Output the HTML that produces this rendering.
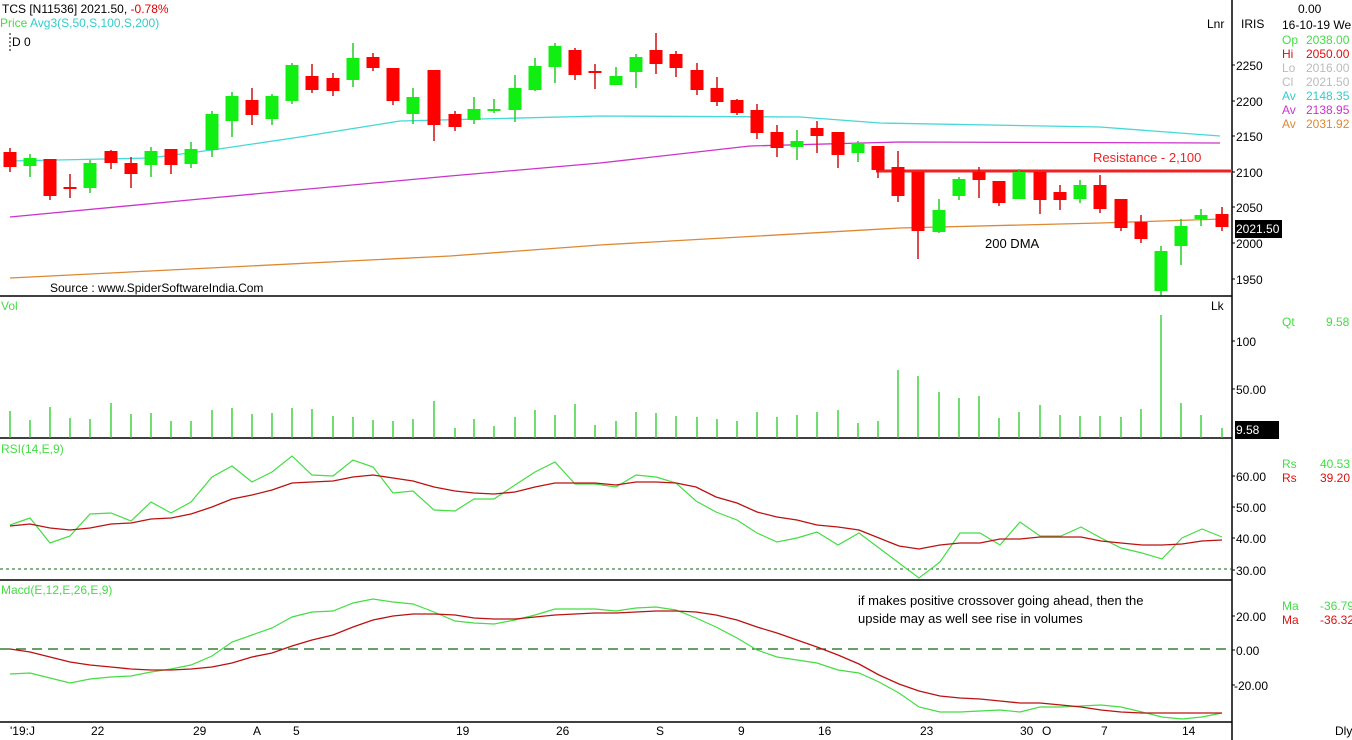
<!DOCTYPE html>
<html><head><meta charset="utf-8"><style>
body{margin:0;background:#fff;width:1352px;height:740px;overflow:hidden}
svg{display:block;font-family:"Liberation Sans",sans-serif;font-size:12px}
.r{fill:#f00}.g{fill:#11ee11}
.wr{stroke:#d01010;stroke-width:1.5}.wg{stroke:#22cc22;stroke-width:1.5}
</style></head><body>
<svg width="1352" height="740" viewBox="0 0 1352 740">
<g stroke="#000" stroke-width="1.5">
<line x1="0" y1="296" x2="1232" y2="296"/>
<line x1="0" y1="438" x2="1232" y2="438"/>
<line x1="0" y1="580" x2="1232" y2="580"/>
<line x1="0" y1="722" x2="1232" y2="722"/>
<line x1="1232" y1="0" x2="1232" y2="740"/>
</g>
<g stroke="#000" stroke-width="1">
<line x1="1232" y1="65" x2="1235" y2="65"/><line x1="1232" y1="101" x2="1235" y2="101"/>
<line x1="1232" y1="136" x2="1235" y2="136"/><line x1="1232" y1="172" x2="1235" y2="172"/>
<line x1="1232" y1="207" x2="1235" y2="207"/><line x1="1232" y1="243" x2="1235" y2="243"/>
<line x1="1232" y1="279" x2="1235" y2="279"/>
<line x1="1232" y1="341" x2="1235" y2="341"/><line x1="1232" y1="389" x2="1235" y2="389"/>
<line x1="1232" y1="476" x2="1235" y2="476"/><line x1="1232" y1="507" x2="1235" y2="507"/>
<line x1="1232" y1="538" x2="1235" y2="538"/><line x1="1232" y1="570" x2="1235" y2="570"/>
<line x1="1232" y1="616" x2="1235" y2="616"/><line x1="1232" y1="650" x2="1235" y2="650"/>
<line x1="1232" y1="685" x2="1235" y2="685"/>
</g>
<text x="2" y="13" fill="#000">TCS [N11536] 2021.50, <tspan fill="#e00000"> -0.78%</tspan></text>
<text x="0" y="27" fill="#44dd44">Price <tspan fill="#33cccc"> Avg3(S,50,S,100,S,200)</tspan></text>
<line x1="10" y1="33" x2="10" y2="52" stroke="#000" stroke-dasharray="2,2"/>
<text x="12" y="46" fill="#000">D 0</text>
<text x="50" y="292" fill="#000">Source : www.SpiderSoftwareIndia.Com</text>
<text x="985" y="248" fill="#000" font-size="13">200 DMA</text>
<text x="1093" y="162" fill="#ee2222" font-size="13">Resistance - 2,100</text>
<text x="858" y="605" fill="#000" font-size="13">if makes positive crossover going ahead, then the</text>
<text x="858" y="623" fill="#000" font-size="13">upside may as well see rise in volumes</text>
<polyline fill="none" stroke="#44d8d8" stroke-width="1.3" points="10,161 150,158 212,150 300,137 400,121 440,120 600,116 800,117 880,123 1100,127 1220,136"/>
<polyline fill="none" stroke="#cc33cc" stroke-width="1.3" points="10,217 200,199 450,176 600,163 750,146 900,142 1220,143"/>
<polyline fill="none" stroke="#dd8833" stroke-width="1.3" points="10,278 450,256 600,245 900,228 1100,223 1222,219"/>
<line x1="876" y1="171" x2="1232" y2="171" stroke="#ee2222" stroke-width="3"/>
<g>
<line class="wr" x1="10" y1="148" x2="10" y2="172"/><rect class="r" x="3.5" y="152" width="13" height="15"/>
<line class="wg" x1="30" y1="154" x2="30" y2="177"/><rect class="g" x="23.5" y="158" width="13" height="8"/>
<line class="wr" x1="50" y1="159" x2="50" y2="200"/><rect class="r" x="43.5" y="159" width="13" height="37"/>
<line class="wr" x1="70" y1="174" x2="70" y2="198"/><rect class="r" x="63.5" y="187" width="13" height="2"/>
<line class="wg" x1="90" y1="160" x2="90" y2="193"/><rect class="g" x="83.5" y="163" width="13" height="25"/>
<line class="wr" x1="111" y1="150" x2="111" y2="169"/><rect class="r" x="104.5" y="151" width="13" height="12"/>
<line class="wr" x1="131" y1="157" x2="131" y2="188"/><rect class="r" x="124.5" y="163" width="13" height="11"/>
<line class="wg" x1="151" y1="147" x2="151" y2="177"/><rect class="g" x="144.5" y="151" width="13" height="14"/>
<line class="wr" x1="171" y1="149" x2="171" y2="174"/><rect class="r" x="164.5" y="149" width="13" height="16"/>
<line class="wg" x1="191" y1="142" x2="191" y2="168"/><rect class="g" x="184.5" y="149" width="13" height="15"/>
<line class="wg" x1="212" y1="111" x2="212" y2="157"/><rect class="g" x="205.5" y="114" width="13" height="36"/>
<line class="wg" x1="232" y1="92" x2="232" y2="137"/><rect class="g" x="225.5" y="96" width="13" height="25"/>
<line class="wr" x1="252" y1="88" x2="252" y2="125"/><rect class="r" x="245.5" y="100" width="13" height="15"/>
<line class="wg" x1="272" y1="94" x2="272" y2="125"/><rect class="g" x="265.5" y="96" width="13" height="23"/>
<line class="wg" x1="292" y1="63" x2="292" y2="104"/><rect class="g" x="285.5" y="65" width="13" height="36"/>
<line class="wr" x1="312" y1="64" x2="312" y2="93"/><rect class="r" x="305.5" y="76" width="13" height="14"/>
<line class="wr" x1="333" y1="73" x2="333" y2="96"/><rect class="r" x="326.5" y="78" width="13" height="13"/>
<line class="wg" x1="353" y1="43" x2="353" y2="87"/><rect class="g" x="346.5" y="58" width="13" height="22"/>
<line class="wr" x1="373" y1="53" x2="373" y2="71"/><rect class="r" x="366.5" y="57" width="13" height="11"/>
<line class="wr" x1="393" y1="68" x2="393" y2="105"/><rect class="r" x="386.5" y="68" width="13" height="33"/>
<line class="wg" x1="413" y1="88" x2="413" y2="124"/><rect class="g" x="406.5" y="97" width="13" height="17"/>
<line class="wr" x1="434" y1="70" x2="434" y2="141"/><rect class="r" x="427.5" y="70" width="13" height="55"/>
<line class="wr" x1="455" y1="111" x2="455" y2="131"/><rect class="r" x="448.5" y="114" width="13" height="13"/>
<line class="wg" x1="474" y1="97" x2="474" y2="124"/><rect class="g" x="467.5" y="109" width="13" height="11"/>
<line class="wg" x1="494" y1="99" x2="494" y2="113"/><rect class="g" x="487.5" y="109" width="13" height="2"/>
<line class="wg" x1="515" y1="75" x2="515" y2="122"/><rect class="g" x="508.5" y="88" width="13" height="22"/>
<line class="wg" x1="535" y1="58" x2="535" y2="91"/><rect class="g" x="528.5" y="66" width="13" height="24"/>
<line class="wg" x1="555" y1="43" x2="555" y2="83"/><rect class="g" x="548.5" y="46" width="13" height="21"/>
<line class="wr" x1="575" y1="48" x2="575" y2="80"/><rect class="r" x="568.5" y="50" width="13" height="25"/>
<line class="wr" x1="595" y1="64" x2="595" y2="89"/><rect class="r" x="588.5" y="71" width="13" height="2"/>
<line class="wg" x1="616" y1="67" x2="616" y2="85"/><rect class="g" x="609.5" y="76" width="13" height="9"/>
<line class="wg" x1="636" y1="54" x2="636" y2="88"/><rect class="g" x="629.5" y="57" width="13" height="15"/>
<line class="wr" x1="656" y1="33" x2="656" y2="74"/><rect class="r" x="649.5" y="50" width="13" height="14"/>
<line class="wr" x1="676" y1="51" x2="676" y2="77"/><rect class="r" x="669.5" y="54" width="13" height="14"/>
<line class="wr" x1="697" y1="63" x2="697" y2="95"/><rect class="r" x="690.5" y="70" width="13" height="20"/>
<line class="wr" x1="717" y1="77" x2="717" y2="106"/><rect class="r" x="710.5" y="88" width="13" height="14"/>
<line class="wr" x1="737" y1="99" x2="737" y2="115"/><rect class="r" x="730.5" y="100" width="13" height="13"/>
<line class="wr" x1="757" y1="104" x2="757" y2="139"/><rect class="r" x="750.5" y="110" width="13" height="23"/>
<line class="wr" x1="777" y1="125" x2="777" y2="157"/><rect class="r" x="770.5" y="132" width="13" height="16"/>
<line class="wg" x1="797" y1="130" x2="797" y2="160"/><rect class="g" x="790.5" y="141" width="13" height="6"/>
<line class="wr" x1="817" y1="121" x2="817" y2="153"/><rect class="r" x="810.5" y="128" width="13" height="8"/>
<line class="wr" x1="838" y1="132" x2="838" y2="168"/><rect class="r" x="831.5" y="132" width="13" height="23"/>
<line class="wg" x1="858" y1="141" x2="858" y2="162"/><rect class="g" x="851.5" y="143" width="13" height="10"/>
<line class="wr" x1="878" y1="146" x2="878" y2="178"/><rect class="r" x="871.5" y="146" width="13" height="24"/>
<line class="wr" x1="898" y1="151" x2="898" y2="202"/><rect class="r" x="891.5" y="167" width="13" height="29"/>
<line class="wr" x1="918" y1="172" x2="918" y2="259"/><rect class="r" x="911.5" y="172" width="13" height="59"/>
<line class="wg" x1="939" y1="199" x2="939" y2="233"/><rect class="g" x="932.5" y="210" width="13" height="22"/>
<line class="wg" x1="959" y1="177" x2="959" y2="200"/><rect class="g" x="952.5" y="179" width="13" height="17"/>
<line class="wr" x1="979" y1="167" x2="979" y2="198"/><rect class="r" x="972.5" y="172" width="13" height="8"/>
<line class="wr" x1="999" y1="181" x2="999" y2="206"/><rect class="r" x="992.5" y="181" width="13" height="22"/>
<line class="wg" x1="1019" y1="169" x2="1019" y2="199"/><rect class="g" x="1012.5" y="172" width="13" height="27"/>
<line class="wr" x1="1040" y1="172" x2="1040" y2="214"/><rect class="r" x="1033.5" y="172" width="13" height="28"/>
<line class="wr" x1="1060" y1="185" x2="1060" y2="210"/><rect class="r" x="1053.5" y="192" width="13" height="8"/>
<line class="wg" x1="1080" y1="180" x2="1080" y2="203"/><rect class="g" x="1073.5" y="185" width="13" height="14"/>
<line class="wr" x1="1100" y1="175" x2="1100" y2="213"/><rect class="r" x="1093.5" y="185" width="13" height="24"/>
<line class="wr" x1="1121" y1="199" x2="1121" y2="231"/><rect class="r" x="1114.5" y="199" width="13" height="29"/>
<line class="wr" x1="1141" y1="215" x2="1141" y2="243"/><rect class="r" x="1134.5" y="222" width="13" height="17"/>
<line class="wg" x1="1161" y1="246" x2="1161" y2="295"/><rect class="g" x="1154.5" y="251" width="13" height="40"/>
<line class="wg" x1="1181" y1="219" x2="1181" y2="265"/><rect class="g" x="1174.5" y="226" width="13" height="20"/>
<line class="wg" x1="1201" y1="209" x2="1201" y2="226"/><rect class="g" x="1194.5" y="215" width="13" height="4"/>
<line class="wr" x1="1222" y1="207" x2="1222" y2="231"/><rect class="r" x="1215.5" y="214" width="13" height="13"/>
</g>
<path fill="none" stroke="#22cc22" stroke-width="1.3" d="M10 438V411M30 438V420M50 438V407M70 438V418M90 438V419M111 438V403M131 438V414M151 438V413M171 438V421M191 438V421M212 438V410M232 438V408M252 438V414M272 438V413M292 438V408M312 438V409M333 438V416M353 438V417M373 438V420M393 438V421M413 438V419M434 438V401M455 438V428M474 438V419M494 438V426M515 438V417M535 438V410M555 438V415M575 438V404M595 438V425M616 438V421M636 438V412M656 438V413M676 438V416M697 438V417M717 438V419M737 438V421M757 438V412M777 438V417M797 438V415M817 438V412M838 438V410M858 438V423M878 438V421M898 438V370M918 438V376M939 438V392M959 438V398M979 438V396M999 438V418M1019 438V412M1040 438V405M1060 438V415M1080 438V416M1100 438V416M1121 438V417M1141 438V409M1161 438V315M1181 438V403M1201 438V415M1222 438V428"/>
<text x="1" y="310" fill="#44dd44">Vol</text>
<text x="1211" y="310" fill="#000">Lk</text>
<text x="1" y="453" fill="#44dd44">RSI(14,E,9)</text>
<line x1="0" y1="569" x2="1232" y2="569" stroke="#116611" stroke-dasharray="3,3"/>
<polyline fill="none" stroke="#44dd44" stroke-width="1.2" points="10,525 30,518 50,543 70,536 90,514 111,513 131,521 151,502 171,513 191,502 212,477 232,466 252,482 272,472 292,456 312,475 333,476 353,460 373,467 393,493 413,491 434,510 455,511 474,499 494,499 515,485 535,472 555,462 575,484 595,484 616,487 636,475 656,477 676,483 696,501 716,512 737,520 757,533 777,542 797,538 817,532 838,545 859,533 879,548 899,563 919,578 940,562 960,533 980,533 1000,545 1020,522 1040,536 1061,536 1081,527 1101,538 1121,548 1142,553 1162,559 1182,538 1202,529 1222,537"/>
<polyline fill="none" stroke="#bb1111" stroke-width="1.3" points="10,526 30,524 50,528 70,530 90,528 111,524 131,523 151,519 171,518 191,514 212,507 232,499 252,495 272,490 292,483 312,482 333,481 353,477 373,475 393,478 413,481 434,487 455,491 474,493 494,494 515,492 535,487 555,483 575,483 595,483 616,485 636,482 656,482 676,483 696,487 716,497 737,503 757,512 777,517 797,520 817,525 838,527 859,530 879,538 899,546 919,549 940,545 960,543 980,543 1000,539 1020,539 1040,537 1061,537 1081,537 1101,541 1121,543 1142,545 1162,545 1182,544 1202,541 1222,540"/>
<text x="1" y="594" fill="#44dd44">Macd(E,12,E,26,E,9)</text>
<line x1="0" y1="649" x2="1232" y2="649" stroke="#116611" stroke-width="1.2" stroke-dasharray="10,6"/>
<polyline fill="none" stroke="#44dd44" stroke-width="1.2" points="10,674 30,673 50,678 70,683 90,679 111,677 131,676 151,672 171,669 191,665 212,656 232,642 252,635 272,628 292,617 312,612 333,611 353,603 373,599 393,602 413,604 434,612 455,621 474,623 494,624 515,620 535,615 555,609 575,609 595,609 616,611 636,608 656,607 676,610 696,618 716,627 737,638 757,650 777,657 797,660 817,663 838,670 859,673 879,682 899,693 919,707 940,712 960,712 980,711 1000,710 1020,712 1040,707 1061,707 1081,706 1101,705 1121,707 1142,712 1162,717 1182,719 1202,717 1222,713"/>
<polyline fill="none" stroke="#bb1111" stroke-width="1.3" points="10,649 30,652 50,657 70,662 90,665 111,667 131,669 151,670 171,670 191,669 212,667 232,663 252,657 272,653 292,646 312,640 333,635 353,627 373,620 393,616 413,614 434,614 455,615 474,618 494,619 515,619 535,617 555,615 575,614 595,613 616,613 636,612 656,611 676,611 696,612 716,615 737,620 757,627 777,633 797,640 817,647 838,655 859,664 879,675 899,684 919,691 940,696 960,698 980,699 1000,701 1020,703 1040,703 1061,705 1081,707 1101,710 1121,712 1142,713 1162,713 1182,713 1202,713 1222,713"/>
<g fill="#000">
<text x="10" y="735">'19:J</text><text x="91" y="735">22</text><text x="193" y="735">29</text>
<text x="253" y="735">A</text><text x="293" y="735">5</text><text x="456" y="735">19</text>
<text x="556" y="735">26</text><text x="656" y="735">S</text><text x="738" y="735">9</text>
<text x="818" y="735">16</text><text x="920" y="735">23</text><text x="1020" y="735">30</text>
<text x="1042" y="735">O</text><text x="1101" y="735">7</text><text x="1182" y="735">14</text>
<text x="1335" y="735">Dly</text>
</g>
<g fill="#000">
<text x="1207" y="28">Lnr</text><text x="1241" y="28">IRIS</text>
<text x="1236" y="70">2250</text><text x="1236" y="106">2200</text><text x="1236" y="141">2150</text>
<text x="1236" y="177">2100</text><text x="1236" y="212">2050</text><text x="1236" y="248">2000</text>
<text x="1236" y="284">1950</text>
<text x="1236" y="346">100</text><text x="1236" y="394">50.00</text>
<text x="1236" y="481">60.00</text><text x="1236" y="512">50.00</text><text x="1236" y="543">40.00</text><text x="1236" y="575">30.00</text>
<text x="1236" y="621">20.00</text><text x="1236" y="655">0.00</text><text x="1234" y="690">-20.00</text>
</g>
<rect x="1235" y="220" width="47" height="18" fill="#000"/>
<text x="1236" y="233" fill="#fff">2021.50</text>
<rect x="1235" y="421" width="44" height="18" fill="#000"/>
<text x="1236" y="434" fill="#fff">9.58</text>
<text x="1298" y="13" fill="#000">0.00</text>
<text x="1282" y="29" fill="#000">16-10-19 We</text>
<text x="1282" y="44" fill="#44dd44">Op</text><text x="1306" y="44" fill="#44dd44">2038.00</text>
<text x="1282" y="58" fill="#dd1111">Hi</text><text x="1306" y="58" fill="#dd1111">2050.00</text>
<text x="1282" y="72" fill="#bbbbbb">Lo</text><text x="1306" y="72" fill="#bbbbbb">2016.00</text>
<text x="1282" y="86" fill="#bbbbbb">Cl</text><text x="1306" y="86" fill="#bbbbbb">2021.50</text>
<text x="1282" y="100" fill="#33cccc">Av</text><text x="1306" y="100" fill="#33cccc">2148.35</text>
<text x="1282" y="114" fill="#cc33cc">Av</text><text x="1306" y="114" fill="#cc33cc">2138.95</text>
<text x="1282" y="128" fill="#dd8833">Av</text><text x="1306" y="128" fill="#dd8833">2031.92</text>
<text x="1282" y="326" fill="#44dd44">Qt</text><text x="1326" y="326" fill="#44dd44">9.58</text>
<text x="1282" y="468" fill="#44dd44">Rs</text><text x="1320" y="468" fill="#44dd44">40.53</text>
<text x="1282" y="482" fill="#dd1111">Rs</text><text x="1320" y="482" fill="#dd1111">39.20</text>
<text x="1282" y="610" fill="#44dd44">Ma</text><text x="1320" y="610" fill="#44dd44">-36.79</text>
<text x="1282" y="624" fill="#dd1111">Ma</text><text x="1320" y="624" fill="#dd1111">-36.32</text>
</svg>
</body></html>
